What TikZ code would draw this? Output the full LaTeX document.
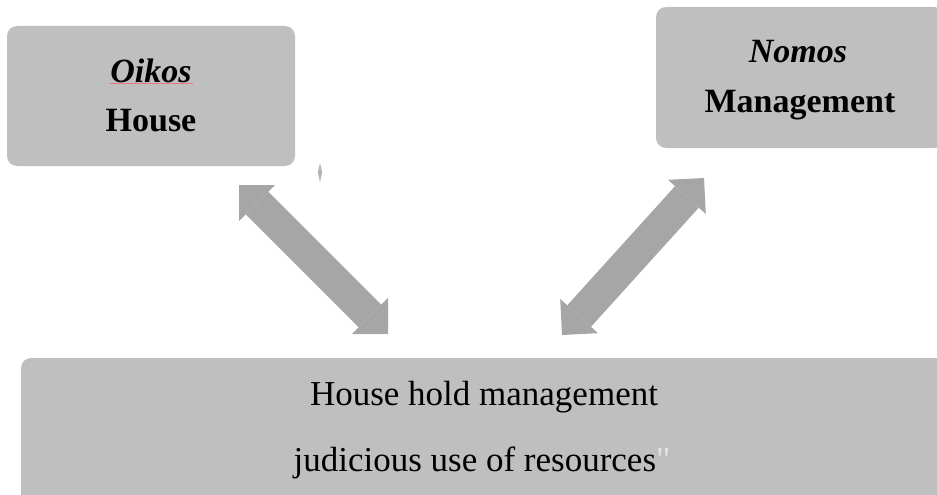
\documentclass[tikz,border=0pt]{standalone}
\usepackage{fontspec}
\setmainfont{Liberation Serif}
\newfontfamily\plainquote{Liberation Serif}
\usetikzlibrary{arrows.meta}
\definecolor{boxgray}{HTML}{BFBFBF}
\definecolor{arrowgray}{HTML}{A6A6A6}
\definecolor{quotegray}{HTML}{E6E6E6}
\definecolor{spellred}{HTML}{E87878}
\tikzset{
  topbox/.style={fill=boxgray, draw=none, rounded corners=10pt, inner sep=0pt},
  toptext/.style={anchor=base, inner sep=0pt, font=\fontsize{34}{40}\selectfont\bfseries},
  bottext/.style={anchor=base, inner sep=0pt, font=\fontsize{35}{40}\selectfont},
  blockarrow/.style={draw=arrowgray, line width=32pt,
    {Triangle[width=51pt,length=25.5pt,line width=0pt,fill=arrowgray]}-{Triangle[width=51pt,length=25.5pt,line width=0pt,fill=arrowgray]}}
}
\begin{document}
\begin{tikzpicture}[x=1pt,y=-1pt]
\useasboundingbox (0,0) rectangle (937,495);
\clip (0,0) rectangle (937,495);
% boxes
\node[topbox, minimum width=288pt, minimum height=140pt] (oikosbox) at (151,96) {};
\node[topbox, minimum width=288pt, minimum height=141pt] (nomosbox) at (800,77.5) {};
\node[topbox, minimum width=924pt, minimum height=150pt] (hhbox) at (483,433) {};
% texts
\node[toptext] (oikos) at (151,82) {\itshape Oikos};
\node[toptext] (house) at (151,131) {House};
\node[toptext] (nomos) at (798,63) {\itshape Nomos};
\node[toptext] (mgmt) at (800,112) {Management};
\node[bottext] (line1) at (484,405) {House hold management};
\node[bottext] (line2) at (482,471) {judicious use of resources{\plainquote\color{quotegray}"}};
% spell-check underline
\draw[spellred, line width=0.8pt] (oikos.base west) ++(0,1.5) -- ++(83,0);
% small diamond mark
\fill[arrowgray!85] (320,163) -- (322.2,172.5) -- (320,182) -- (317.8,172.5) -- cycle;
% block arrows
\coordinate (la1) at (239,185);
\coordinate (la2) at (388,334);
\coordinate (ra1) at (562,335);
\coordinate (ra2) at (704,178);
\draw[blockarrow] (la1) -- (la2);
\draw[blockarrow] (ra1) -- (ra2);
\end{tikzpicture}
\end{document}
